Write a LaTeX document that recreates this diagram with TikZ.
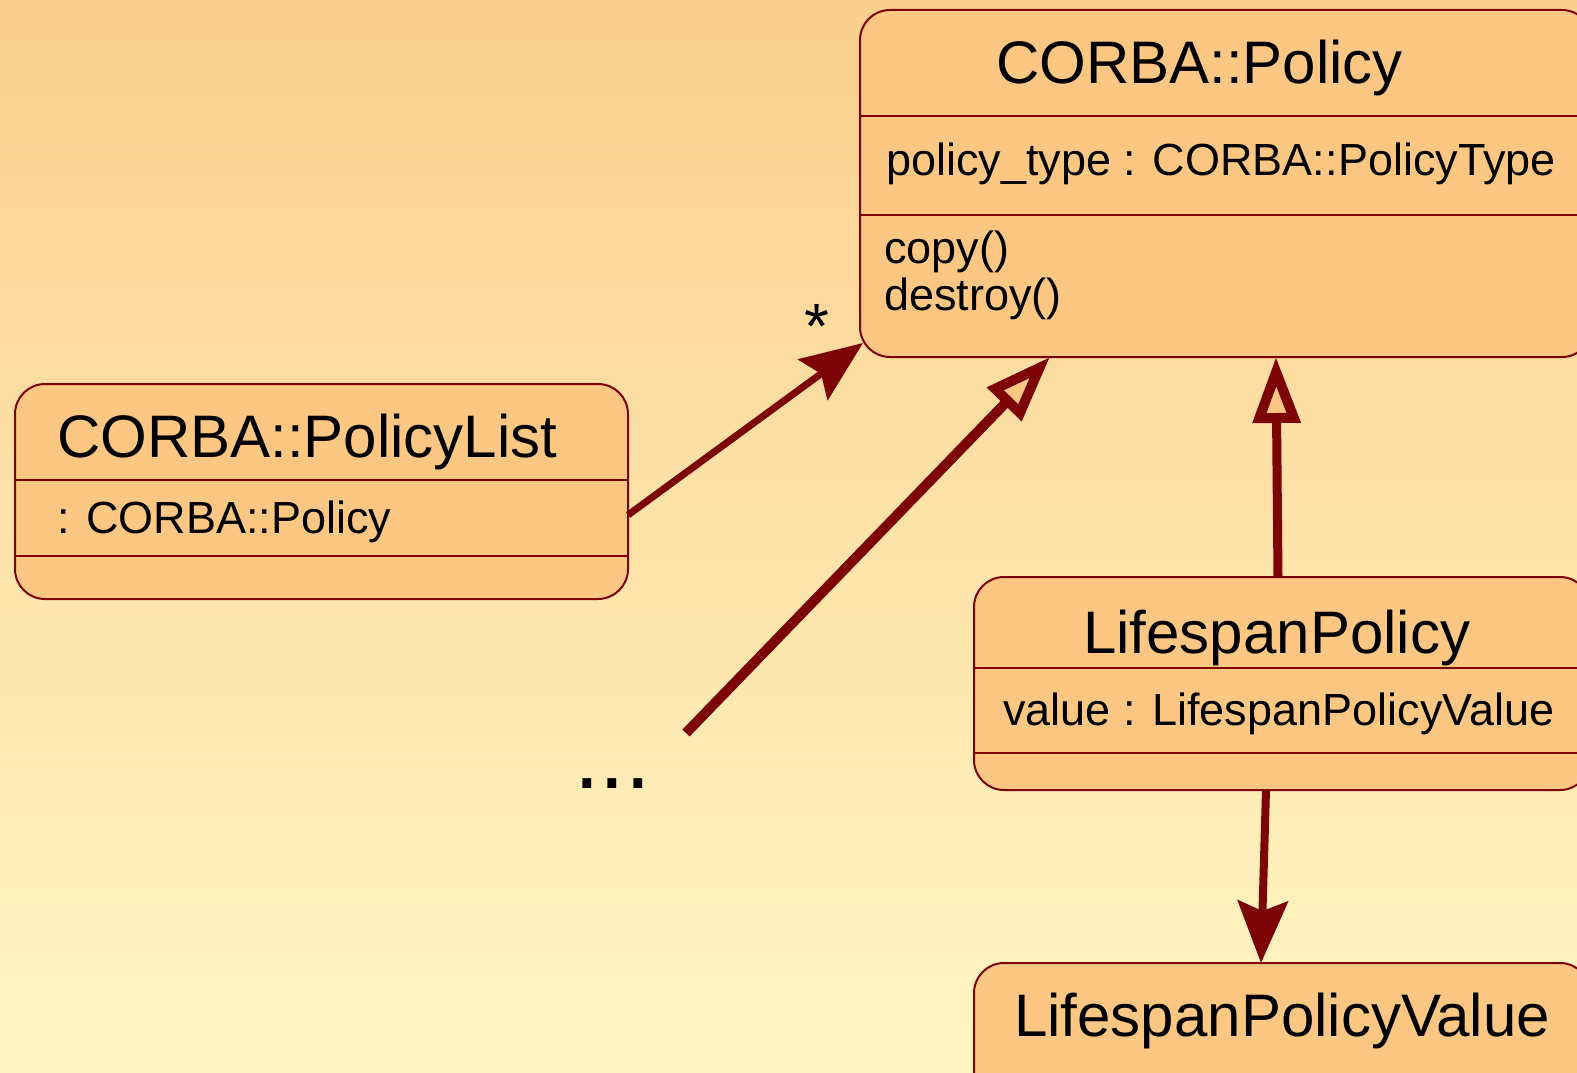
\documentclass[tikz,border=0pt]{standalone}
\usepackage{fontspec}
\setmainfont{Liberation Sans}
\usetikzlibrary{arrows.meta,calc}

\definecolor{bgtop}{RGB}{251,207,141}
\definecolor{bgbot}{RGB}{255,246,196}
\definecolor{boxfill}{RGB}{252,199,130}
\definecolor{umlline}{RGB}{124,4,4}

\begin{document}
\begin{tikzpicture}[x=1pt,y=-1pt,
  classbox/.style={draw=umlline, line width=2pt, fill=boxfill,
    rounded corners=30pt, inner sep=0pt, outer sep=0pt, anchor=north west},
  divider/.style={draw=umlline, line width=2pt},
  classname/.style={font=\fontsize{60}{60}\selectfont, inner sep=0pt, anchor=base west},
  member/.style={font=\fontsize{45}{47}\selectfont, inner sep=0pt, anchor=base west},
  assoc/.style={draw=umlline, -{Stealth[length=62pt, width=50pt, inset=10pt]}},
  generalize/.style={draw=umlline,
    -{Triangle[length=66pt, width=46pt, fill=boxfill, line width=10pt]}},
]
  \useasboundingbox (0,0) rectangle (1577,1073);
  \clip (0,0) rectangle (1577,1073);

  % background
  \shade[top color=bgtop, bottom color=bgbot] (0,0) rectangle (1577,1073);

  % class boxes
  \node[classbox, minimum width=732pt, minimum height=347pt] (policy) at (860,10) {};
  \node[classbox, minimum width=613pt, minimum height=215pt] (plist) at (15,384) {};
  \node[classbox, minimum width=616pt, minimum height=213pt] (lspan) at (974,577) {};
  \node[classbox, minimum width=616pt, minimum height=160pt] (lval) at (974,963) {};

  % compartment separators
  \draw[divider] ($(policy.north west)+(0,106)$) -- ($(policy.north east)+(0,106)$);
  \draw[divider] ($(policy.north west)+(0,205)$) -- ($(policy.north east)+(0,205)$);
  \draw[divider] ($(plist.north west)+(0,96)$) -- ($(plist.north east)+(0,96)$);
  \draw[divider] ($(plist.north west)+(0,172)$) -- ($(plist.north east)+(0,172)$);
  \draw[divider] ($(lspan.north west)+(0,91)$) -- ($(lspan.north east)+(0,91)$);
  \draw[divider] ($(lspan.north west)+(0,176)$) -- ($(lspan.north east)+(0,176)$);

  % texts
  \node[classname] (policyname) at (996,83) {CORBA::Policy};
  \node[member] (policyattr) at (886,175) {policy\_type : CORBA::PolicyType};
  \node[member] (policyop1) at (884,263) {copy()};
  \node[member] (policyop2) at (884,310) {destroy()};

  \node[classname] (plistname) at (57,457) {CORBA::PolicyList};
  \node[member] (plistattr) at (57,533) {: CORBA::Policy};

  \node[classname] (lspanname) at (1083,653) {LifespanPolicy};
  \node[member] (lspanattr) at (1003,725) {value : LifespanPolicyValue};

  \node[classname] (lvalname) at (1014,1036) {LifespanPolicyValue};

  \node[font=\fontsize{92}{92}\selectfont, inner sep=0pt, anchor=base west] (more) at (574,788) {...};
  \node[font=\fontsize{64}{64}\selectfont, inner sep=0pt] (mult) at (817,326) {*};

  \coordinate (moretail) at (686,733);

  % connectors
  \draw[assoc, line width=7pt] ($(plist.north east)+(0,131)$) -- ($(policy.south west)+(3,-14)$);
  \draw[generalize, line width=10pt] (moretail) -- ($(policy.south west)+(190,0)$);
  \draw[generalize, line width=9pt] ($(lspan.north west)+(304,0)$) -- ($(policy.south west)+(416,0)$);
  \draw[assoc, line width=8pt] ($(lspan.south west)+(292,0)$) -- ($(lval.north west)+(287,0)$);
\end{tikzpicture}
\end{document}
